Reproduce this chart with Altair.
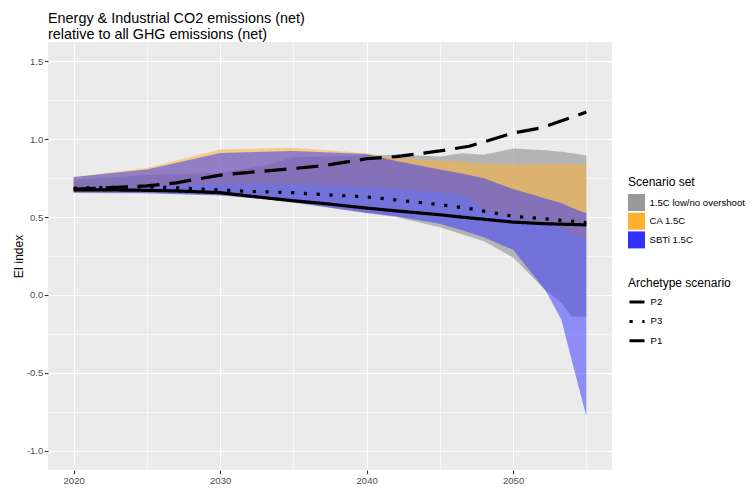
import altair as alt
import pandas as pd

# ---------------- data ----------------
set_names = ["1.5C low/no overshoot", "CA 1.5C", "SBTi 1.5C"]
set_colors = ["#999999", "#FFB030", "#3030FF"]
set_opacity = [0.68, 0.52, 0.5]

ribbon_years = [2020, 2025, 2030, 2033, 2035, 2040, 2042, 2045, 2046.5, 2048, 2050, 2052.2, 2053.3, 2054, 2055]
gray_hi = [0.74, 0.77, 0.785, 0.83, 0.885, 0.895, 0.90, 0.89, 0.91, 0.90, 0.94, 0.93, 0.92, 0.91, 0.895]
gray_lo = [0.655, 0.652, 0.638, 0.615, 0.592, 0.525, 0.50, 0.435, 0.39, 0.345, 0.24, 0.03, -0.05, -0.14, -0.14]
ca_hi = [0.757, 0.815, 0.935, 0.94, 0.945, 0.91, 0.88, 0.862, 0.855, 0.845, 0.837, 0.84, 0.84, 0.84, 0.84]
ca_lo = [0.675, 0.695, 0.715, 0.712, 0.71, 0.695, 0.68, 0.66, 0.645, 0.55, 0.49, 0.46, 0.43, 0.40, 0.355]
sbti_hi = [0.757, 0.805, 0.912, 0.92, 0.925, 0.905, 0.86, 0.805, 0.78, 0.75, 0.68, 0.62, 0.59, 0.56, 0.525]
sbti_lo = [0.658, 0.655, 0.641, 0.618, 0.595, 0.528, 0.505, 0.458, 0.415, 0.37, 0.29, 0.03, -0.16, -0.42, -0.78]

line_names = ["P2", "P3", "P1"]
line_years = [2020, 2022, 2025, 2027, 2030, 2032, 2035, 2037, 2040, 2042, 2045, 2047, 2050, 2052, 2055]
p1 = [0.675, 0.675, 0.672, 0.668, 0.657, 0.635, 0.605, 0.588, 0.558, 0.54, 0.515, 0.495, 0.468, 0.458, 0.45]
p2 = [0.68, 0.687, 0.70, 0.72, 0.77, 0.787, 0.812, 0.83, 0.875, 0.888, 0.925, 0.955, 1.04, 1.075, 1.175]
p3 = [0.685, 0.69, 0.695, 0.688, 0.675, 0.665, 0.657, 0.645, 0.63, 0.61, 0.58, 0.555, 0.505, 0.49, 0.465]

x_ticks = [2020, 2025, 2030, 2035, 2040, 2045, 2050, 2055]
y_ticks = [-1, -0.75, -0.5, -0.25, 0, 0.25, 0.5, 0.75, 1, 1.25, 1.5]

# ---------------- tables ----------------
rib_rows = []
for name, lo, hi in zip(set_names, [gray_lo, ca_lo, sbti_lo], [gray_hi, ca_hi, sbti_hi]):
    for yr, l, h in zip(ribbon_years, lo, hi):
        rib_rows.append({"year": yr, "set": name, "lo": l, "hi": h})
ribbons = pd.DataFrame(rib_rows)

line_rows = []
for name, vals in zip(["P1", "P2", "P3"], [p1, p2, p3]):
    for yr, v in zip(line_years, vals):
        line_rows.append({"year": yr, "scenario": name, "value": v})
lines = pd.DataFrame(line_rows)

FONT = "Liberation Sans"
minor_x = "datum.value % 10 !== 0"
minor_y = "abs(datum.value*2 - round(datum.value*2)) > 0.01"

x_axis = alt.Axis(
    values=x_ticks,
    labelExpr="datum.value % 10 === 0 ? format(datum.value, 'd') : ''",
    grid=True, gridColor="white",
    gridWidth={"condition": {"test": minor_x, "value": 0.55}, "value": 1.1},
    tickOpacity={"condition": {"test": minor_x, "value": 0}, "value": 1},
    tickColor="#333333", tickSize=3.7, tickWidth=1.1,
    domain=False, labelFlush=False,
    labelFontSize=9.5, labelColor="#4D4D4D", labelPadding=2, labelFont=FONT,
    title=None,
)
y_axis = alt.Axis(
    values=y_ticks,
    labelExpr=f"{minor_y} ? '' : (datum.value < 0 ? '-' : '') + format(abs(datum.value), '.1f')",
    grid=True, gridColor="white",
    gridWidth={"condition": {"test": minor_y, "value": 0.55}, "value": 1.1},
    tickOpacity={"condition": {"test": minor_y, "value": 0}, "value": 1},
    tickColor="#333333", tickSize=3.7, tickWidth=1.1,
    domain=False, labelFlush=False,
    labelFontSize=9.5, labelColor="#4D4D4D", labelPadding=1.5, labelFont=FONT,
    title="EI index", titleFontSize=12, titleFontWeight="normal", titleColor="black",
    titleFont=FONT, titleX=-26, titleBaseline="alphabetic",
)

x_scale = alt.Scale(domain=[2018.25, 2056.75], nice=False, zero=False)
y_scale = alt.Scale(domain=[-1.125, 1.625], nice=False, zero=False)

color_legend = alt.Legend(
    title="Scenario set", orient="none", legendX=580, legendY=135,
    symbolType="square", symbolSize=289, symbolStrokeWidth=0, symbolOpacity=1,
    labelOffset=4.5, rowPadding=1.7, titlePadding=5,
    titleFontSize=12, titleFontWeight="normal", titleColor="black", titleFont=FONT,
    labelFontSize=9.6, labelColor="black", labelFont=FONT, labelLimit=300,
)
color_enc = alt.Color("set:N", scale=alt.Scale(domain=set_names, range=set_colors), legend=color_legend)

layers = []
for name, op in zip(set_names, set_opacity):
    layers.append(
        alt.Chart(ribbons).transform_filter(alt.datum.set == name)
        .mark_area(fillOpacity=op, clip=True)
        .encode(
            x=alt.X("year:Q", scale=x_scale, axis=x_axis),
            y=alt.Y("hi:Q", scale=y_scale, axis=y_axis),
            y2="lo:Q",
            color=color_enc,
        )
    )

dash_legend = alt.Legend(
    title="Archetype scenario", orient="none", legendX=580, legendY=236,
    symbolType="stroke", symbolStrokeColor="black", symbolStrokeWidth=3, symbolSize=225,
    labelOffset=4.5, rowPadding=4.4, titlePadding=3,
    titleFontSize=12, titleFontWeight="normal", titleColor="black", titleFont=FONT,
    labelFontSize=9.6, labelColor="black", labelFont=FONT,
)
line_layer = alt.Chart(lines).mark_line(color="black", strokeWidth=3.2, strokeCap="butt", clip=True).encode(
    x=alt.X("year:Q", scale=x_scale, axis=x_axis),
    y=alt.Y("value:Q", scale=y_scale, axis=y_axis),
    strokeDash=alt.StrokeDash(
        "scenario:N",
        scale=alt.Scale(domain=line_names, range=[[22, 10], [3.2, 9.6], [1, 0]]),
        legend=dash_legend,
    ),
)
layers.append(line_layer)

chart = alt.layer(*layers).properties(
    width=564, height=428,
    padding={"left": 40, "top": 34, "right": 134, "bottom": 16},
    autosize=alt.AutoSizeParams(type="none"),
    title=alt.TitleParams(
        text=["Energy & Industrial CO2 emissions (net)", "relative to all GHG emissions (net)"],
        anchor="start", frame="group", fontSize=14.4, fontWeight="normal", color="black",
        lineHeight=16, offset=0, font=FONT,
    ),
).configure(font=FONT).configure_view(fill="#EBEBEB", strokeWidth=0)

chart.save("out.html", embed_options={"renderer": "svg", "actions": False})
